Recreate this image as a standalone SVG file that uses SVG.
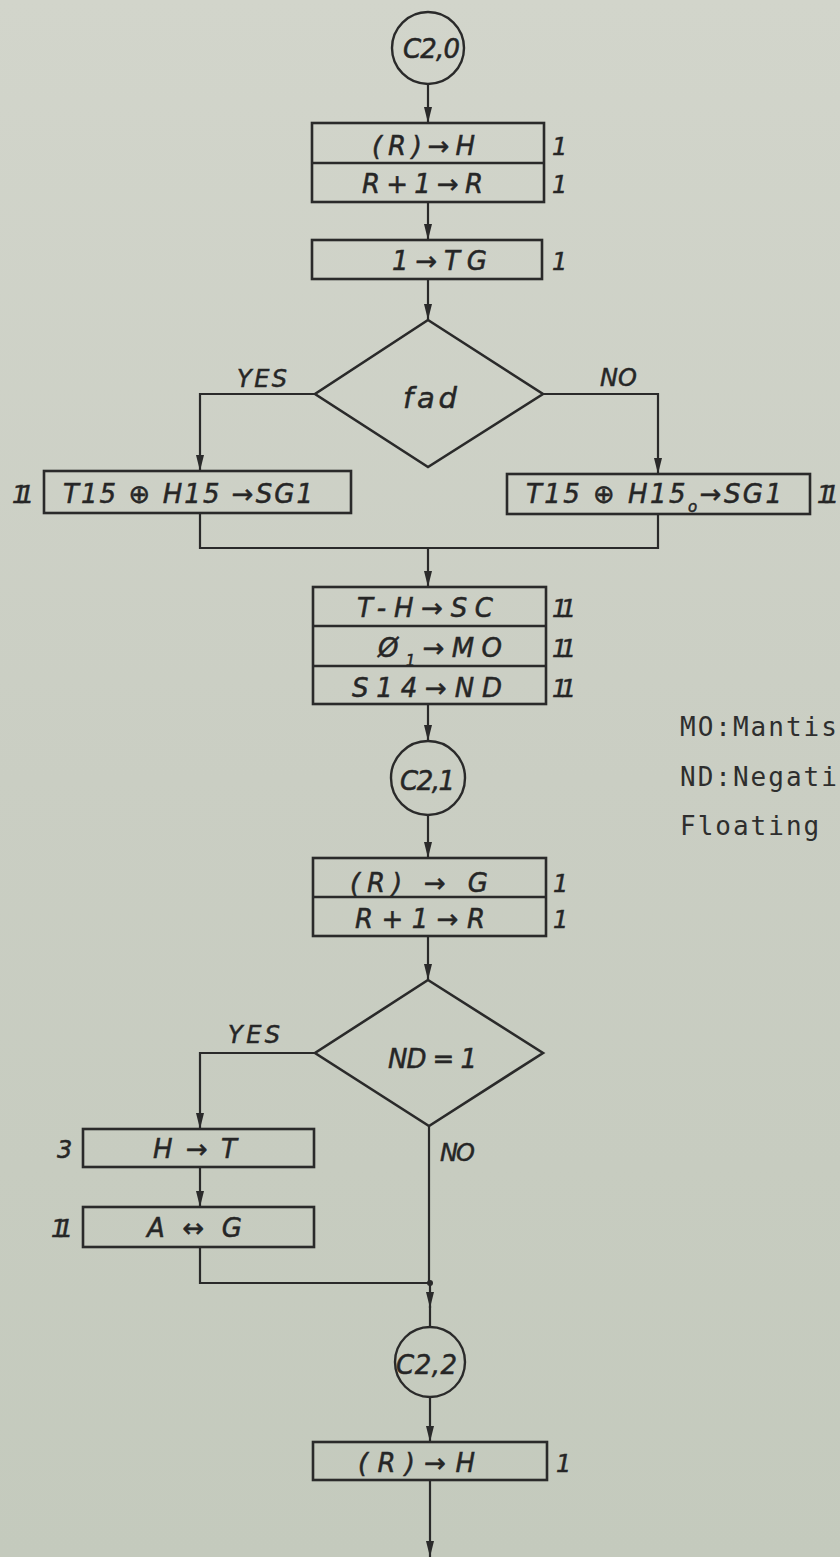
<svg xmlns="http://www.w3.org/2000/svg" width="840" height="1557" viewBox="0 0 840 1557">
<defs>
<linearGradient id="bg" x1="0" y1="0" x2="0" y2="1">
<stop offset="0" stop-color="#d2d5cb"/>
<stop offset="0.5" stop-color="#cacec3"/>
<stop offset="1" stop-color="#c4cabd"/>
</linearGradient>
<marker id="ah" viewBox="0 0 16 8" refX="16" refY="4" markerWidth="16" markerHeight="8" markerUnits="userSpaceOnUse" orient="auto">
<path d="M0,0 L16,4 L0,8 z" fill="#2a2a2a"/>
</marker>
<style>
.box{fill:none;stroke:#2a2a2a;stroke-width:2.6}
.ln{fill:none;stroke:#2a2a2a;stroke-width:2.2}
.c{fill:none;stroke:#2a2a2a;stroke-width:2.4}
.t{font-family:"DejaVu Sans","Liberation Sans",sans-serif;font-style:italic;font-size:26px;fill:#262626;stroke:#262626;stroke-width:0.5}
.lb{font-family:"DejaVu Sans","Liberation Sans",sans-serif;font-style:italic;font-size:24px;fill:#262626;stroke:#262626;stroke-width:0.5}
.m{font-family:"DejaVu Sans Mono","Liberation Mono",monospace;font-size:26px;letter-spacing:2px;fill:#2e2e2e}
.sub{font-size:15px}
</style>
</defs>
<rect width="840" height="1557" fill="url(#bg)"/>

<g id="connectors">
<path class="ln" d="M428,85 V123" marker-end="url(#ah)"/>
<path class="ln" d="M428,202 V240" marker-end="url(#ah)"/>
<path class="ln" d="M428,279 V320" marker-end="url(#ah)"/>
<path class="ln" d="M315,394 H200 V471" marker-end="url(#ah)"/>
<path class="ln" d="M543,394 H658 V474" marker-end="url(#ah)"/>
<path class="ln" d="M200,513 V548 H658 V514"/>
<path class="ln" d="M428,548 V587" marker-end="url(#ah)"/>
<path class="ln" d="M428,704 V741" marker-end="url(#ah)"/>
<path class="ln" d="M428,815 V858" marker-end="url(#ah)"/>
<path class="ln" d="M428,936 V980" marker-end="url(#ah)"/>
<path class="ln" d="M315,1053 H200 V1129" marker-end="url(#ah)"/>
<path class="ln" d="M200,1167 V1207" marker-end="url(#ah)"/>
<path class="ln" d="M200,1247 V1283 H430"/>
<path class="ln" d="M429,1126 V1283"/>
<path class="ln" d="M430,1283 V1308" marker-end="url(#ah)"/>
<path class="ln" d="M430,1306 V1327"/>
<path class="ln" d="M430,1397 V1442" marker-end="url(#ah)"/>
<path class="ln" d="M430,1480 V1557" marker-end="url(#ah)"/>
<circle cx="430" cy="1283" r="3" fill="#2a2a2a"/>
<text class="lb" x="237" y="387" textLength="50">YES</text>
<text class="lb" x="600" y="386" textLength="37">NO</text>
<text class="lb" x="228" y="1043" textLength="52">YES</text>
<text class="lb" x="440" y="1161" textLength="35">NO</text>
</g>

<g id="c20">
<circle class="c" cx="428" cy="48" r="36"/>
<text class="t" x="403" y="58" textLength="57">C2,0</text>
</g>

<g id="box1">
<rect class="box" x="312" y="123" width="232" height="79"/>
<line class="box" x1="312" y1="163" x2="544" y2="163"/>
<text class="t" x="372" y="155" textLength="103">(R)→H</text>
<text class="t" x="362" y="193" textLength="121">R+1→R</text>
<text class="lb" x="552" y="155">1</text>
<text class="lb" x="552" y="193">1</text>
</g>

<g id="box2">
<rect class="box" x="312" y="240" width="230" height="39"/>
<text class="t" x="392" y="270" textLength="95">1→TG</text>
<text class="lb" x="552" y="270">1</text>
</g>

<g id="fad">
<polygon class="box" points="428,320 543,394 428,467 315,394"/>
<text class="t" x="403" y="408" style="font-size:29px" textLength="54">fad</text>
</g>

<g id="yes1">
<rect class="box" x="44" y="471" width="307" height="42"/>
<text class="t" x="63" y="503" textLength="250">T15 ⊕ H15 →SG1</text>
<text class="lb" x="12" y="503" textLength="22">11</text>
</g>

<g id="no1">
<rect class="box" x="507" y="474" width="303" height="40"/>
<text class="t" x="526" y="503" textLength="256">T15 ⊕ H15<tspan class="sub" baseline-shift="sub">o</tspan>→SG1</text>
<text class="lb" x="817" y="503" textLength="22">11</text>
</g>

<g id="box3">
<rect class="box" x="313" y="587" width="233" height="117"/>
<line class="box" x1="313" y1="626" x2="546" y2="626"/>
<line class="box" x1="313" y1="666" x2="546" y2="666"/>
<text class="t" x="357" y="617" textLength="136">T-H→SC</text>
<text class="t" x="378" y="657" textLength="124">Ø<tspan class="sub" baseline-shift="sub">1</tspan>→MO</text>
<text class="t" x="352" y="697" textLength="150">S14→ND</text>
<text class="lb" x="552" y="617" textLength="24">11</text>
<text class="lb" x="552" y="657" textLength="24">11</text>
<text class="lb" x="552" y="697" textLength="24">11</text>
</g>

<g id="note">
<text class="m" x="680" y="736">MO:Mantis</text>
<text class="m" x="680" y="786">ND:Negati</text>
<text class="m" x="680" y="835">Floating</text>
</g>

<g id="c21">
<circle class="c" cx="428" cy="778" r="37"/>
<text class="t" x="400" y="790" textLength="55">C2,1</text>
</g>

<g id="box4">
<rect class="box" x="313" y="858" width="233" height="78"/>
<line class="box" x1="313" y1="897" x2="546" y2="897"/>
<text class="t" x="350" y="892" textLength="138">(R) → G</text>
<text class="t" x="355" y="928" textLength="130">R+1→R</text>
<text class="lb" x="553" y="892">1</text>
<text class="lb" x="553" y="928">1</text>
</g>

<g id="nd">
<polygon class="box" points="428,980 543,1053 429,1126 315,1053"/>
<text class="t" x="388" y="1068" textLength="89">ND = 1</text>
</g>

<g id="ht">
<rect class="box" x="83" y="1129" width="231" height="38"/>
<text class="t" x="153" y="1158" textLength="84">H→T</text>
<text class="lb" x="57" y="1158">3</text>
</g>

<g id="ag">
<rect class="box" x="83" y="1207" width="231" height="40"/>
<text class="t" x="147" y="1237" textLength="95">A↔G</text>
<text class="lb" x="51" y="1237" textLength="22">11</text>
</g>

<g id="c22">
<circle class="c" cx="430" cy="1362" r="35"/>
<text class="t" x="396" y="1374" textLength="61">C2,2</text>
</g>

<g id="box5">
<rect class="box" x="313" y="1442" width="234" height="38"/>
<text class="t" x="358" y="1472" textLength="117">(R)→H</text>
<text class="lb" x="556" y="1472">1</text>
</g>
</svg>
